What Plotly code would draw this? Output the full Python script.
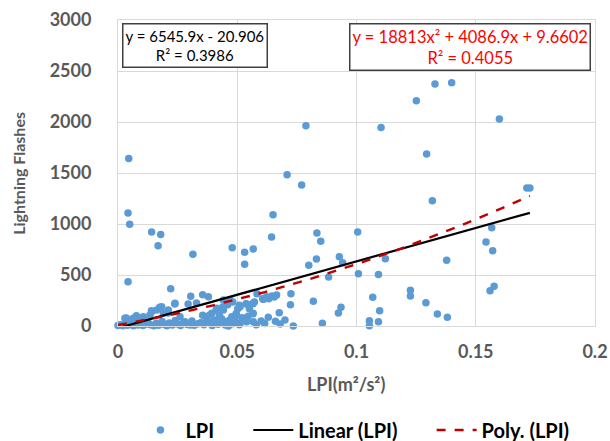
import numpy as np
import plotly.graph_objects as go

# LPI (m^2/s^2) and lightning flash counts
lpi = [
    0.1329, 0.1399, 0.1251, 0.1599, 0.0788, 0.1103, 0.1294, 0.0770, 0.1714, 0.1727,
    0.1318, 0.0834, 0.0850, 0.1005, 0.1567, 0.1543, 0.1571, 0.0800, 0.0832, 0.0928,
    0.0942, 0.0883, 0.1008, 0.1092, 0.1121, 0.1378, 0.1226, 0.1226, 0.1068, 0.1097,
    0.1291, 0.1339, 0.1381, 0.1560, 0.1577, 0.0819, 0.0935, 0.0924, 0.0857, 0.1054,
    0.1054, 0.1092,
    0.0045, 0.0042, 0.0049, 0.0141, 0.0179, 0.0168, 0.0314, 0.0479, 0.0531, 0.0567,
    0.0531, 0.0709, 0.0650, 0.0644, 0.0042,
    0.0725, 0.0723, 0.0676, 0.0660, 0.0735,
    0.0221, 0.0305, 0.0355, 0.0379,
    0.0655, 0.0632, 0.0607, 0.0646, 0.0665, 0.0623, 0.0609,
    0.0583, 0.0565, 0.0537, 0.0509, 0.0565, 0.0509, 0.0411, 0.0425, 0.0383, 0.0355,
    0.0390, 0.0348, 0.0467, 0.0481, 0.0446, 0.0495, 0.0502, 0.0551, 0.0572, 0.0481,
    0.0460, 0.0439,
    0.0000, 0.0010, 0.0020, 0.0030, 0.0040, 0.0055, 0.0065, 0.0075, 0.0085, 0.0095,
    0.0105, 0.0115, 0.0125, 0.0135, 0.0150, 0.0160, 0.0170, 0.0185, 0.0195, 0.0205,
    0.0215, 0.0228, 0.0240, 0.0250, 0.0262, 0.0275, 0.0290, 0.0310, 0.0320, 0.0335,
    0.0360, 0.0370, 0.0395, 0.0405, 0.0420, 0.0435, 0.0450, 0.0490, 0.0520, 0.0545,
    0.0580, 0.0600, 0.0615, 0.0630, 0.0680, 0.0700,
    0.0064, 0.0029, 0.0050, 0.0016, 0.0085, 0.0106, 0.0134, 0.0141, 0.0162, 0.0183,
    0.0190, 0.0211, 0.0239, 0.0260, 0.0281, 0.0302, 0.0344, 0.0372, 0.0393, 0.0414,
    0.0442, 0.0477, 0.0456, 0.0463, 0.0512, 0.0567, 0.0539, 0.0497, 0.0567, 0.0512,
    0.0539, 0.0567, 0.0609, 0.0442, 0.0470, 0.0238, 0.0294, 0.0329, 0.0175, 0.0077,
    0.0035, 0.0105, 0.0210, 0.0140,
]
flashes = [
    2372, 2385, 2208, 2029, 1963, 1947, 1686, 1382, 1352, 1352,
    1228, 911, 830, 921, 963, 823, 738, 595, 657, 679,
    620, 480, 513, 506, 660, 644, 350, 294, 281, 150,
    228, 118, 85, 346, 389, 242, 183, 127, 26, 52,
    3, 42,
    1643, 1107, 997, 921, 898, 787, 703, 767, 722, 755,
    605, 1483, 1091, 872, 434,
    317, 209, 130, 46, 0,
    365, 291, 307, 287,
    284, 268, 268, 294, 304, 287, 262,
    317, 219, 219, 203, 121, 13, 154, 105, 105, 105,
    32, 32, 56, 23, 39, 121, 170, 170, 235, 235,
    209, 186,
    5, 12, 3, 20, 8, 15, 2, 25, 10, 30,
    5, 18, 40, 12, 3, 28, 8, 45, 15, 2,
    30, 10, 55, 20, 5, 35, 15, 48, 8, 22,
    12, 40, 5, 60, 18, 70, 10, 60, 80, 95,
    12, 50, 25, 85, 20, 60,
    75, 75, 42, 10, 59, 91, 108, 140, 157, 189,
    124, 157, 222, 91, 42, 10, 26, 59, 124, 173,
    157, 91, 42, 0, 26, 42, 42, 108, 124, 189,
    216, 222, 262, 255, 255, 216, 216, 225, 183, 101,
    78, 78, 128, 150,
]

# Trendline coefficients
lin_slope, lin_icpt, lin_r2 = 6545.9, -20.906, 0.3986
poly_a, poly_b, poly_c, poly_r2 = 18813, 4086.9, 9.6602, 0.4055

x_ticks = [0, 0.05, 0.1, 0.15, 0.2]
x_tick_text = ["0", "0.05", "0.1", "0.15", "0.2"]
y_ticks = [0, 500, 1000, 1500, 2000, 2500, 3000]

xs = np.linspace(min(lpi), max(lpi), 200)
lin_y = lin_slope * xs + lin_icpt
poly_y = poly_a * xs ** 2 + poly_b * xs + poly_c

FONT = "Lato"
GRAY = "#595959"
GRID = "#D9D9D9"
NBSP = "\u00a0"

fig = go.Figure()
fig.add_trace(go.Scatter(
    x=lpi, y=flashes, mode="markers", name="LPI" + NBSP * 6,
    marker=dict(color="#5B9BD5", size=7.5, line=dict(width=0)),
    cliponaxis=False,
))
fig.add_trace(go.Scatter(
    x=xs, y=lin_y, mode="lines", name="Linear (LPI)" + NBSP * 6,
    line=dict(color="black", width=2.2),
))
fig.add_trace(go.Scatter(
    x=xs, y=poly_y, mode="lines", name="Poly. (LPI)",
    line=dict(color="#C00000", width=2.4, dash="dash"),
))

fig.update_layout(
    width=610, height=441,
    margin=dict(l=118, r=15, t=20, b=115, autoexpand=False),
    paper_bgcolor="white", plot_bgcolor="white",
    font=dict(family=FONT, color=GRAY),
    showlegend=True,
    legend=dict(
        orientation="h", x=0.222, xanchor="left", xref="container",
        y=0.025, yanchor="middle", yref="container",
        font=dict(family=FONT, size=20, color="black", weight="bold"),
        itemwidth=40, tracegroupgap=0,
    ),
    xaxis=dict(
        range=[0, 0.2], tickvals=x_ticks, ticktext=x_tick_text,
        showgrid=True, gridcolor=GRID, gridwidth=1,
        showline=True, linecolor=GRID, linewidth=1, mirror=True,
        zeroline=False, ticks="", ticklabelstandoff=9,
        tickfont=dict(family=FONT, size=18, color=GRAY, weight="bold"),
    ),
    yaxis=dict(
        range=[0, 3000], tickvals=y_ticks,
        showgrid=True, gridcolor=GRID, gridwidth=1,
        showline=True, linecolor=GRID, linewidth=1, mirror=True,
        zeroline=False, ticks="", ticklabelstandoff=22,
        tickfont=dict(family=FONT, size=18, color=GRAY, weight="bold"),
    ),
    annotations=[
        dict(
            text="Lightning Flashes", textangle=-90,
            xref="paper", yref="paper", x=-0.21, y=0.5,
            xanchor="center", yanchor="middle", showarrow=False,
            font=dict(family=FONT, size=16, color=GRAY, weight="bold"),
        ),
        dict(
            text="LPI(m²/s²)",
            xref="paper", yref="paper", x=0.479, y=-0.19,
            xanchor="center", yanchor="middle", showarrow=False,
            font=dict(family=FONT, size=18, color=GRAY, weight="bold"),
        ),
        dict(
            text=f"y = {lin_slope}x - {abs(lin_icpt)}<br>R² = {lin_r2}",
            xref="paper", yref="paper", x=0.0084, y=0.99,
            xanchor="left", yanchor="top", showarrow=False, align="center",
            bgcolor="white", bordercolor="#404040", borderwidth=1.5, borderpad=2,
            font=dict(family=FONT, size=15, color="black"),
        ),
        dict(
            text=f"y = {poly_a}x² + {poly_b}x + {poly_c}<br>R² = {poly_r2}",
            xref="paper", yref="paper", x=0.992, y=0.99,
            xanchor="right", yanchor="top", showarrow=False, align="center",
            bgcolor="white", bordercolor="#404040", borderwidth=1.5, borderpad=2,
            font=dict(family=FONT, size=16.5, color="#FF0000"),
        ),
    ],
)

fig.write_html("out.html")
